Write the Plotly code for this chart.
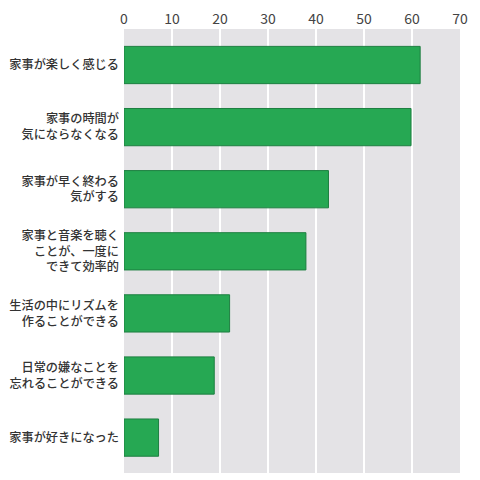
import plotly.graph_objects as go

labels = [
    "家事が楽しく感じる",
    "家事の時間が<br>気にならなくなる",
    "家事が早く終わる<br>気がする",
    "家事と音楽を聴く<br>ことが、一度に<br>できて効率的",
    "生活の中にリズムを<br>作ることができる",
    "日常の嫌なことを<br>忘れることができる",
    "家事が好きになった",
]
values = [61.7, 59.8, 42.6, 37.9, 22.0, 18.8, 7.2]
x_ticks = [0, 10, 20, 30, 40, 50, 60, 70]

fig = go.Figure()
fig.add_bar(
    x=values, y=labels, orientation="h", width=0.6,
    marker=dict(color="#26a853", line=dict(color="#1d7f40", width=1)),
)

# the page body adds an 8px margin, so the figure is a bit smaller than the window
fig.update_layout(
    width=472, height=472,
    margin=dict(l=116, r=20, t=21, b=7),
    paper_bgcolor="white", plot_bgcolor="#e4e3e6",
    font=dict(family="Noto Sans CJK JP", color="#333333"),
    showlegend=False,
    xaxis=dict(
        side="top", range=[0, 70], tickvals=x_ticks, showgrid=True,
        gridcolor="white", gridwidth=2, zeroline=False, showline=False,
        tickfont=dict(size=14, color="#444444"), automargin=False,
        ticklabelstandoff=1, fixedrange=True,
    ),
    yaxis=dict(
        range=[6.57, -0.58], showgrid=False, showline=False, ticks="",
        tickfont=dict(size=12.2, color="#333333", weight=500), automargin=False,
        ticklabelstandoff=4, fixedrange=True,
    ),
)

fig.write_html("out.html")
